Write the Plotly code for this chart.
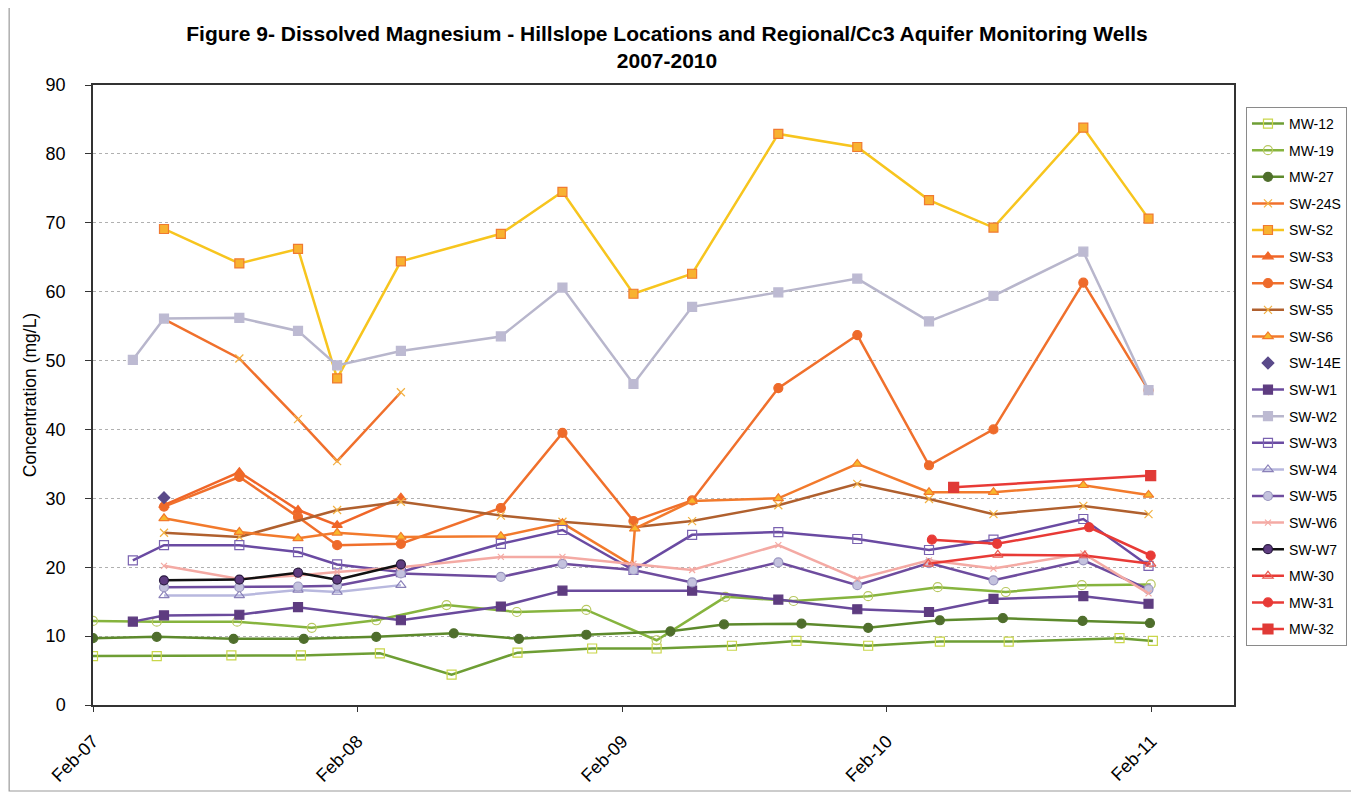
import plotly.graph_objects as go

# ---- sample dates (SW hillslope group) ----
sw_dates = ["2007-03-28", "2007-05-10", "2007-08-22", "2007-11-11", "2008-01-04",
            "2008-04-01", "2008-08-17", "2008-11-10", "2009-02-16", "2009-05-08",
            "2009-09-04", "2009-12-22", "2010-03-31", "2010-06-28", "2010-10-30",
            "2011-01-28"]

N = None
sw_s2 = [N, 69.1, 64.1, 66.2, 47.4, 64.4, 68.4, 74.5, 59.7, 62.6, 82.9, 81.0, 73.3, 69.3, 83.8, 70.6]
sw_w2 = [50.1, 56.1, 56.2, 54.3, 49.3, 51.4, 53.5, 60.6, 46.6, 57.8, 59.9, 61.9, 55.7, 59.4, 65.8, 45.7]
sw_24s = [N, 56.0, 50.3, 41.5, 35.4, 45.4, N, N, N, N, N, N, N, N, N, N]
sw_s3 = [N, 29.0, 33.8, 28.3, 26.1, 30.1, N, N, N, N, N, N, N, N, N, N]
sw_s4 = [N, 28.8, 33.1, 27.3, 23.2, 23.4, 28.6, 39.5, 26.7, 29.7, 46.0, 53.7, 34.8, 40.0, 61.3, 45.7]
sw_s5 = [N, 25.0, 24.4, N, 28.3, 29.5, 27.5, 26.6, 25.8, 26.7, 29.0, 32.1, 29.9, 27.7, 28.9, 27.7]
sw_s6_dates = ["2007-05-10", "2007-08-22", "2007-11-11", "2008-01-04", "2008-04-01",
               "2008-08-17", "2008-11-10", "2009-02-14", "2009-02-18", "2009-05-08",
               "2009-09-04", "2009-12-22", "2010-03-31", "2010-06-28", "2010-10-30",
               "2011-01-28"]
sw_s6 = [27.1, 25.1, 24.2, 25.0, 24.4, 24.5, 26.4, 20.3, 25.6, 29.6, 30.0, 35.0, 30.9, 30.9, 31.9, 30.5]
sw_14e = [N, 30.1, N, N, N, N, N, N, N, N, N, N, N, N, N, N]
sw_w1 = [12.1, 13.0, 13.1, 14.2, N, 12.3, 14.3, 16.6, N, 16.6, 15.3, 13.9, 13.5, 15.4, 15.8, 14.7]
sw_w3 = [21.0, 23.2, 23.2, 22.2, 20.4, 19.3, 23.4, 25.4, 19.6, 24.7, 25.1, 24.1, 22.5, 24.0, 27.0, 20.2]
sw_w4 = [N, 15.9, 15.9, 16.7, 16.4, 17.4, N, N, N, N, N, N, N, N, N, N]
sw_w5 = [N, 17.1, 17.1, 17.2, 17.3, 19.1, 18.6, 20.5, 19.6, 17.8, 20.7, 17.4, 20.6, 18.1, 21.0, 16.8]
sw_w6 = [N, 20.2, 18.3, 18.8, 19.3, 20.0, 21.5, 21.5, 20.5, 19.6, 23.2, 18.3, 21.0, 19.8, 22.0, 16.2]
sw_w7 = [N, 18.1, 18.2, 19.2, 18.2, 20.4, N, N, N, N, N, N, N, N, N, N]

# ---- regional / Cc3 aquifer wells ----
mw12_dates = ["2007-02-01", "2007-04-30", "2007-08-11", "2007-11-15", "2008-03-03",
              "2008-06-10", "2008-09-09", "2008-12-21", "2009-03-20", "2009-07-02",
              "2009-09-29", "2010-01-06", "2010-04-15", "2010-07-19", "2010-12-19",
              "2011-02-03"]
mw12 = [7.1, 7.1, 7.2, 7.2, 7.5, 4.4, 7.6, 8.2, 8.2, 8.6, 9.3, 8.6, 9.2, 9.2, 9.7, 9.3]

mw19_dates = ["2007-02-01", "2007-04-30", "2007-08-19", "2007-11-30", "2008-02-27",
              "2008-06-03", "2008-09-08", "2008-12-13", "2009-03-20", "2009-06-23",
              "2009-09-25", "2010-01-06", "2010-04-12", "2010-07-15", "2010-10-28",
              "2011-01-31"]
mw19 = [12.2, 12.1, 12.1, 11.2, 12.3, 14.5, 13.5, 13.8, 9.4, 15.7, 15.1, 15.8, 17.1, 16.4, 17.4, 17.5]

mw27_dates = ["2007-02-01", "2007-04-30", "2007-08-14", "2007-11-19", "2008-02-27",
              "2008-06-13", "2008-09-11", "2008-12-13", "2009-04-08", "2009-06-21",
              "2009-10-06", "2010-01-06", "2010-04-15", "2010-07-11", "2010-10-29",
              "2011-01-30"]
mw27 = [9.7, 9.9, 9.6, 9.6, 9.9, 10.4, 9.6, 10.2, 10.7, 11.7, 11.8, 11.2, 12.3, 12.6, 12.2, 11.9]

mw30_dates = ["2010-03-30", "2010-07-04", "2010-11-01", "2011-01-31"]
mw30 = [20.5, 21.8, 21.7, 20.5]
mw31_dates = ["2010-04-04", "2010-07-03", "2010-11-07", "2011-01-31"]
mw31 = [24.0, 23.4, 25.8, 21.7]
mw32_dates = ["2010-05-04", "2011-01-31"]
mw32 = [31.6, 33.3]

x_ticks = ["2007-02-01", "2008-02-01", "2009-02-01", "2010-02-01", "2011-02-01"]
x_tick_text = ["Feb-07", "Feb-08", "Feb-09", "Feb-10", "Feb-11"]
y_ticks = [0, 10, 20, 30, 40, 50, 60, 70, 80, 90]

# ---- layout geometry (figure pixels; page body adds an 8px offset) ----
W, H = 1351, 787
ML, MR, MT, MB = 85, 123, 77, 90
PW, PH = W - ML - MR, H - MT - MB

def px(X):
    return (X - ML) / PW

def py(Y):
    return (H - MB - Y) / PH

fig = go.Figure()

def add(name, x, y, lc, sym, mfill, mline, msize=9, lw=2.5, mode="lines+markers"):
    fig.add_trace(go.Scatter(
        x=x, y=y, name=name, mode=mode, legendgroup=name,
        line=dict(color=lc, width=lw), connectgaps=True,
        marker=dict(symbol=sym, size=msize, color=mfill,
                    line=dict(color=mline, width=1.2))))

add("MW-12", mw12_dates, mw12, "#6e9e34", "square-open", "#c9d64a", "#c9d64a")
add("MW-19", mw19_dates, mw19, "#86b43e", "circle-open", "#b8c860", "#b8c860")
add("MW-27", mw27_dates, mw27, "#5d8a2c", "circle", "#4f6e2c", "#4f6e2c")
add("SW-24S", sw_dates, sw_24s, "#f0702c", "x-thin-open", "#f2b040", "#f2b040", msize=8)
add("SW-S2", sw_dates, sw_s2, "#f7c51e", "square", "#f8b230", "#f07a30")
add("SW-S3", sw_dates, sw_s3, "#f06628", "triangle-up", "#f06628", "#f06628")
add("SW-S4", sw_dates, sw_s4, "#f0702c", "circle", "#ee6a2a", "#ee6a2a")
add("SW-S5", sw_dates, sw_s5, "#b0602e", "x-thin-open", "#f2b040", "#f2b040", msize=8)
add("SW-S6", sw_s6_dates, sw_s6, "#f27a2c", "triangle-up", "#f8b82c", "#f27a2c")
add("SW-14E", sw_dates, sw_14e, "#5a4a8a", "diamond", "#5a4a8a", "#5a4a8a", mode="markers")
add("SW-W1", sw_dates, sw_w1, "#6a4a9c", "square", "#5e3c80", "#5e3c80")
add("SW-W2", sw_dates, sw_w2, "#b8b6cc", "square", "#bdbad2", "#bdbad2")
add("SW-W3", sw_dates, sw_w3, "#6a4aa2", "square-open", "#7a62b0", "#7a62b0")
add("SW-W4", sw_dates, sw_w4, "#b8b8de", "triangle-up-open", "#8a80b8", "#8a80b8")
add("SW-W5", sw_dates, sw_w5, "#6e4c9e", "circle", "#c4c2de", "#9a96c0")
add("SW-W6", sw_dates, sw_w6, "#f4aaa4", "x-thin-open", "#f4aaa4", "#f4aaa4", msize=6)
add("SW-W7", sw_dates, sw_w7, "#111111", "circle", "#5e3c80", "#2a1a40")
add("MW-30", mw30_dates, mw30, "#e83a36", "triangle-up-open", "#e85a50", "#e85a50")
add("MW-31", mw31_dates, mw31, "#e83a36", "circle", "#e83a36", "#e83a36")
add("MW-32", mw32_dates, mw32, "#e83a36", "square", "#e03a36", "#e03a36", msize=10)

# outer chart frame
fig.add_shape(type="rect", xref="paper", yref="paper",
              x0=px(1), x1=px(W - 4), y0=py(H - 4), y1=py(-2),
              line=dict(color="#9a9a9a", width=1.2), fillcolor="rgba(0,0,0,0)",
              layer="below")

FONT = "Liberation Sans, Arial, sans-serif"

fig.update_layout(
    width=W, height=H,
    paper_bgcolor="white", plot_bgcolor="white",
    font=dict(family=FONT, color="black"),
    title=dict(
        text="<b>Figure 9- Dissolved Magnesium - Hillslope Locations and Regional/Cc3 Aquifer Monitoring Wells<br>2007-2010</b>",
        x=659 / W, xanchor="center", xref="container",
        y=1 - 33 / H, yanchor="top", yref="container",
        font=dict(size=21, family=FONT)),
    margin=dict(l=ML, r=MR, t=MT, b=MB),
    showlegend=True,
    legend=dict(
        x=px(1240), xanchor="left", y=py(99), yanchor="top",
        bgcolor="white", bordercolor="#8a8a8a", borderwidth=1,
        font=dict(size=14), tracegroupgap=5.4, itemwidth=32),
    xaxis=dict(
        type="date", range=["2007-02-01", "2011-05-26"],
        tickmode="array", tickvals=x_ticks, ticktext=x_tick_text,
        tickangle=-45, tickfont=dict(size=18), ticklabelstandoff=12,
        showgrid=False, showline=True, linecolor="#333333", linewidth=1.5,
        mirror=True, ticks="outside", ticklen=5, tickcolor="#333333",
        zeroline=False, automargin=False),
    yaxis=dict(
        range=[0, 90], tickvals=y_ticks, tickfont=dict(size=18),
        ticklabelstandoff=16,
        title=dict(text="Concentration (mg/L)", font=dict(size=17.5), standoff=4),
        showgrid=True, gridcolor="#b0b0b0", gridwidth=1, griddash="dot",
        showline=True, linecolor="#333333", linewidth=1.5, mirror=True,
        ticks="outside", ticklen=6, tickcolor="#333333", zeroline=False,
        automargin=False),
)

fig.write_html("out.html")
